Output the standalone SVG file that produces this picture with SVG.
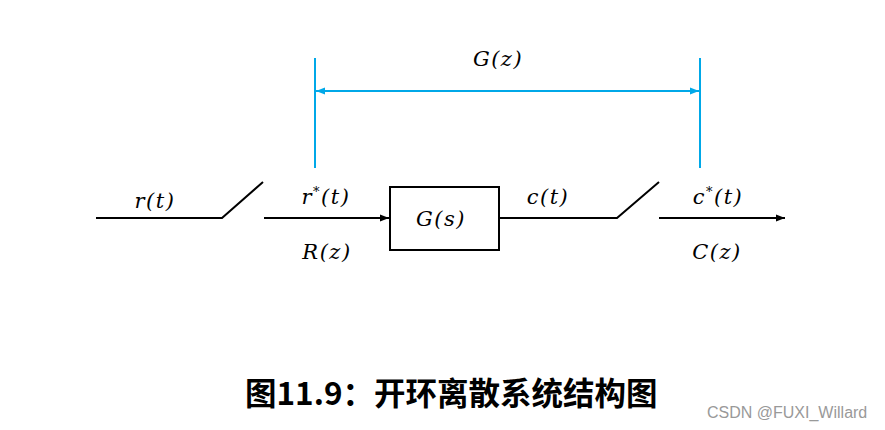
<svg xmlns="http://www.w3.org/2000/svg" width="885" height="430" viewBox="0 0 885 430">
<style>
.ln{stroke:#000;stroke-width:2;fill:none}
.cy{stroke:#00A8E8;stroke-width:2;fill:none}
.m{font-family:"DejaVu Serif","Liberation Serif",serif;font-style:italic;font-size:21px;letter-spacing:1.5px;fill:#000;text-anchor:middle}
.cap{font-family:"Noto Sans CJK SC","Noto Sans",sans-serif;font-weight:bold;font-size:31.5px;fill:#000}
.wm{font-family:"Liberation Sans",Arial,sans-serif;font-size:16px;fill:#999}
</style>
<defs>
<marker id="ab" viewBox="0 0 10 10" refX="10" refY="5" markerWidth="9" markerHeight="9" markerUnits="userSpaceOnUse" orient="auto"><path d="M0,1 L10,5 L0,9 z" fill="#000"/></marker>
<marker id="ac" viewBox="0 0 10 10" refX="10" refY="5" markerWidth="9" markerHeight="9" markerUnits="userSpaceOnUse" orient="auto-start-reverse"><path d="M0,1 L10,5 L0,9 z" fill="#00A8E8"/></marker>
</defs>
<rect width="885" height="430" fill="#fff"/>
<g id="connectors">
<polyline class="ln" points="96,218 222,218 263,182"/>
<line class="ln" x1="264" y1="218" x2="389" y2="218" marker-end="url(#ab)"/>
<polyline class="ln" points="499,218 617,218 659,182"/>
<line class="ln" x1="659" y1="218" x2="785" y2="218" marker-end="url(#ab)"/>
<line class="cy" x1="315" y1="58" x2="315" y2="168"/>
<line class="cy" x1="700" y1="58" x2="700" y2="168"/>
<line class="cy" x1="316" y1="91" x2="699" y2="91" marker-start="url(#ac)" marker-end="url(#ac)"/>
</g>
<g id="block-G">
<rect x="390" y="187" width="109" height="63" class="ln"/>
<text class="m" x="441" y="226">G(s)</text>
</g>
<g id="labels">
<text class="m" x="155" y="208">r(t)</text>
<text class="m" x="326" y="204">r<tspan font-size="13" dy="-8">*</tspan><tspan dy="8">(t)</tspan></text>
<text class="m" x="327" y="259">R(z)</text>
<text class="m" x="548" y="204">c(t)</text>
<text class="m" x="718" y="204">c<tspan font-size="13" dy="-8">*</tspan><tspan dy="8">(t)</tspan></text>
<text class="m" x="717" y="259">C(z)</text>
<text class="m" x="498" y="66">G(z)</text>
</g>
<text class="cap" x="245" y="405">图11.9：开环离散系统结构图</text>
<text class="wm" x="707" y="418">CSDN @FUXI_Willard</text>
</svg>
